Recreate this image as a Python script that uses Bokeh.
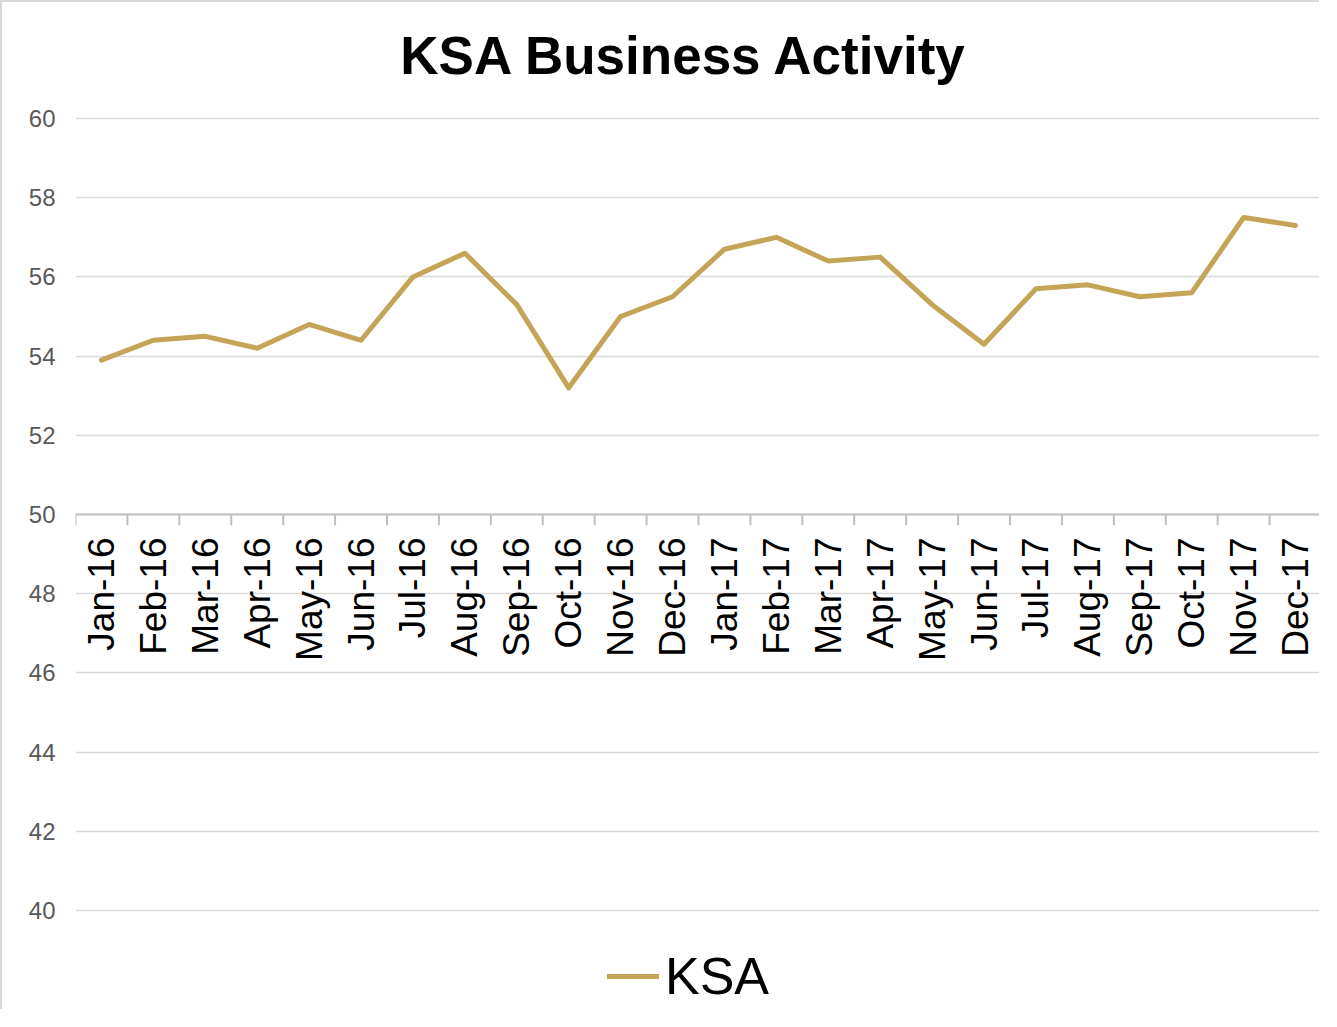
import math
from bokeh.plotting import figure
from bokeh.models import Range1d, FixedTicker, Span, Legend, Label
from bokeh.core.properties import value
from bokeh.embed import file_html
from bokeh.resources import INLINE

title_text = "KSA Business Activity"
months = ["Jan-16", "Feb-16", "Mar-16", "Apr-16", "May-16", "Jun-16",
          "Jul-16", "Aug-16", "Sep-16", "Oct-16", "Nov-16", "Dec-16",
          "Jan-17", "Feb-17", "Mar-17", "Apr-17", "May-17", "Jun-17",
          "Jul-17", "Aug-17", "Sep-17", "Oct-17", "Nov-17", "Dec-17"]
ksa = [53.9, 54.4, 54.5, 54.2, 54.8, 54.4,
       56.0, 56.6, 55.3, 53.2, 55.0, 55.5,
       56.7, 57.0, 56.4, 56.5, 55.3, 54.3,
       55.7, 55.8, 55.5, 55.6, 57.5, 57.3]
y_ticks = [40, 42, 44, 46, 48, 50, 52, 54, 56, 58, 60]
axis_value = 50

FONT = "Liberation Sans"
LINE_COLOR = "#C4A456"

idx = list(range(len(months)))

p = figure(width=1319, height=1009, output_backend="svg", toolbar_location=None,
           x_range=Range1d(-0.5, len(months) - 0.5),
           y_range=Range1d(37.45, 62.93),
           x_axis_location=None,
           min_border_left=73, min_border_right=0, min_border_top=0,
           min_border_bottom=0)
p.styles = {"border-left": "2px solid #d9d9d9", "border-top": "2px solid #d9d9d9"}
p.outline_line_color = None
p.background_fill_color = "white"
p.border_fill_color = "white"

p.xgrid.visible = False
p.ygrid.ticker = FixedTicker(ticks=y_ticks)
p.ygrid.grid_line_color = "#d9d9d9"
p.ygrid.grid_line_width = 1.5

p.yaxis.ticker = FixedTicker(ticks=y_ticks)
p.yaxis.axis_line_color = None
p.yaxis.major_tick_line_color = None
p.yaxis.minor_tick_line_color = None
p.yaxis.major_label_text_font = FONT
p.yaxis.major_label_text_font_size = "24px"
p.yaxis.major_label_text_color = "#595959"
p.yaxis.major_label_standoff = 14

# chart title
p.add_layout(Label(x=(len(months) - 1) / 2, y=max(y_ticks), text=title_text,
                   x_offset=-14, y_offset=63,
                   text_align="center", text_baseline="alphabetic",
                   text_font=FONT, text_font_size="53px", text_font_style="bold",
                   text_color="black"))

# horizontal category axis crossing at 50
p.add_layout(Span(location=axis_value, dimension="width", line_color="#bfbfbf", line_width=2))
bounds = [i - 0.5 for i in range(len(months) + 1)]
p.segment(x0=bounds, y0=[axis_value] * len(bounds), x1=bounds,
          y1=[axis_value - 0.27] * len(bounds), line_color="#bfbfbf", line_width=2)
p.text(x=idx, y=[axis_value] * len(months), text=months, angle=math.pi / 2,
       text_align="right", text_baseline="middle", y_offset=23,
       text_font=value(FONT), text_font_size="37px", text_color="black")

r = p.line(idx, ksa, line_color=LINE_COLOR, line_width=5, line_join="round",
           line_cap="round")

legend = Legend(items=[("KSA", [r])], location=(532, 5))
legend.label_text_font = FONT
legend.label_text_font_size = "52px"
legend.label_text_color = "black"
legend.glyph_width = 52
legend.glyph_height = 30
legend.border_line_color = None
legend.background_fill_alpha = 0
legend.margin = 0
legend.padding = 4
legend.label_standoff = 6
p.add_layout(legend)

open("out.html", "w").write(file_html(p, INLINE))
